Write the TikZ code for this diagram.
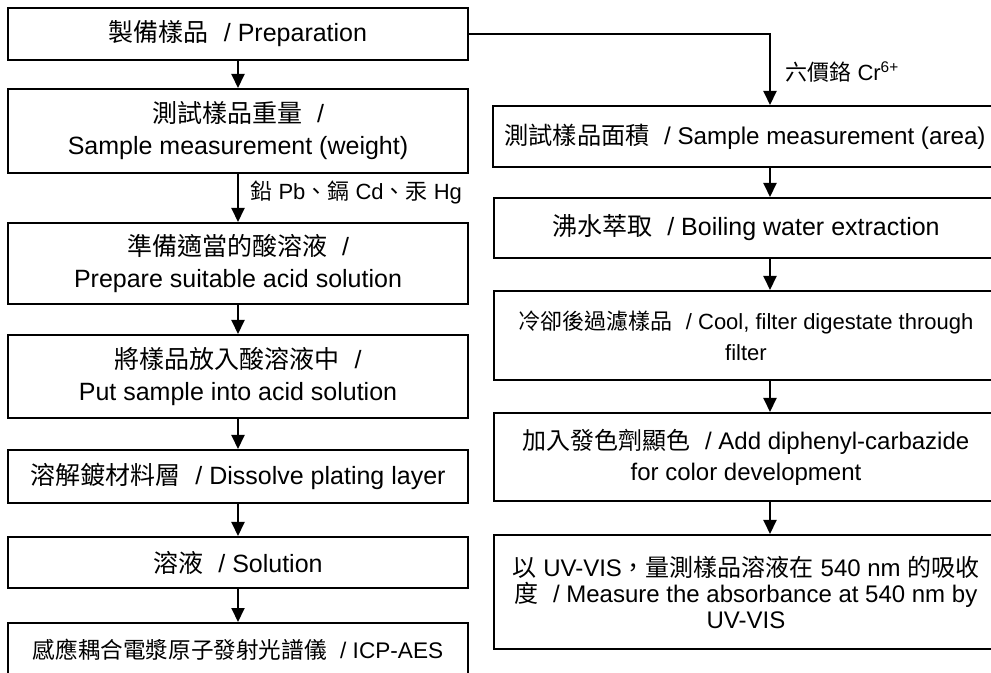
\documentclass[tikz,border=0pt]{standalone}
\usepackage{fontspec}
\setmainfont{Liberation Sans}
\newfontfamily\cjk{Noto Sans CJK TC}
\newcommand{\zh}[1]{{\cjk #1}}
\newcommand{\zhsep}{\hspace{0.6em}/ }
\usetikzlibrary{arrows.meta,positioning,calc}

\begin{document}
\begin{tikzpicture}[x=0.5pt,y=-0.5pt,
  >={Triangle[length=7pt,width=6.5pt]},
  every node/.style={font=\fontsize{12.5}{16}\selectfont,align=center,inner sep=0pt},
  lbox/.style={draw,line width=1pt,minimum width=230pt},
  rbox/.style={draw,line width=1pt,minimum width=252pt},
  flow/.style={->,line width=1pt},
  tag/.style={anchor=west,font=\fontsize{11}{13}\selectfont}]
\clip (0,0) rectangle (991,673);
% left column: Pb, Cd, Hg
\node[lbox,minimum height=26pt] (prep) at (238,34) {\zh{製備樣品}\zhsep Preparation};
\node[lbox,minimum height=42pt] (weigh) at (238,131) {\zh{測試樣品重量}\zhsep\\ Sample measurement (weight)};
\node[lbox,minimum height=40.5pt] (acid) at (238,263.5) {\zh{準備適當的酸溶液}\zhsep\\ Prepare suitable acid solution};
\node[lbox,minimum height=41.5pt] (immerse) at (238,376.5) {\zh{將樣品放入酸溶液中}\zhsep\\ Put sample into acid solution};
\node[lbox,minimum height=26.5pt] (dissolve) at (238,476.5) {\zh{溶解鍍材料層}\zhsep Dissolve plating layer};
\node[lbox,minimum height=25.5pt] (soln) at (238,562.5) {\zh{溶液}\zhsep Solution};
\node[lbox,minimum height=26.5pt,font=\fontsize{11.3}{14}\selectfont] (icp) at (238,649.5) {\zh{感應耦合電漿原子發射光譜儀}\zhsep ICP-AES};
% right column: Cr(VI)
\node[rbox,minimum height=30.5pt,font=\fontsize{12.1}{15}\selectfont] (area) at (745,136.5) {\zh{測試樣品面積}\zhsep Sample measurement (area)};
\node[rbox,minimum height=30pt] (boil) at (746,228) {\zh{沸水萃取}\zhsep Boiling water extraction};
\node[rbox,minimum height=44.5pt,font=\fontsize{11}{15.5}\selectfont] (cool) at (746,335.5) {\zh{冷卻後過濾樣品}\zhsep Cool, filter digestate through\\ filter};
\node[rbox,minimum height=44pt,font=\fontsize{12}{15.5}\selectfont] (color) at (746,457) {\zh{加入發色劑顯色}\zhsep Add diphenyl-carbazide\\ for color development};
\node[rbox,minimum height=57pt,font=\fontsize{12}{13}\selectfont] (uvvis) at (746,592)
  {\zh{以} UV-VIS\zh{，量測樣品溶液在} 540 nm \zh{的吸收}\\ \zh{度}\zhsep Measure the absorbance at 540 nm by\\ UV-VIS};
\coordinate (crx) at (770,0);
% connectors
\foreach \a/\b in {prep/weigh,weigh/acid,acid/immerse,immerse/dissolve,dissolve/soln,soln/icp}
  \draw[flow] (\a) -- (\b);
\draw[flow] (prep.east) -| (area.north -| crx);
\foreach \a/\b in {area/boil,boil/cool,cool/color,color/uvvis}
  \draw[flow] (\a.south -| crx) -- (\b.north -| crx);
\node[tag] (metals) at (250,192) {\zh{鉛} Pb\zh{、鎘} Cd\zh{、汞} Hg};
\node[tag] (chrom) at (785,72) {\zh{六價鉻} Cr\textsuperscript{6+}};
\end{tikzpicture}
\end{document}
